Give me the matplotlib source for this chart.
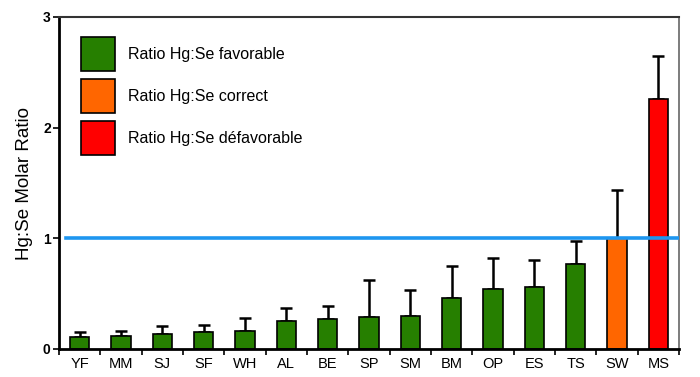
import numpy as np
import matplotlib.pyplot as plt
from matplotlib.patches import Patch

plt.rcParams['font.family'] = ['Liberation Sans', 'DejaVu Sans']

sites = ['YF', 'MM', 'SJ', 'SF', 'WH', 'AL', 'BE', 'SP', 'SM', 'BM',
         'OP', 'ES', 'TS', 'SW', 'MS']
ratio = [0.11, 0.12, 0.14, 0.15, 0.16, 0.25, 0.27, 0.285, 0.295, 0.457,
         0.54, 0.556, 0.77, 1.0, 2.26]
err = [0.04, 0.04, 0.07, 0.07, 0.12, 0.12, 0.12, 0.335, 0.235, 0.293,
       0.28, 0.244, 0.21, 0.44, 0.39]
status = ['fav'] * 13 + ['cor', 'def']

colors = {'fav': '#267f00', 'cor': '#ff6600', 'def': '#ff0000'}
labels = {'fav': 'Ratio Hg:Se favorable', 'cor': 'Ratio Hg:Se correct',
          'def': 'Ratio Hg:Se défavorable'}

fig = plt.figure(figsize=(7, 3.77), dpi=100)
ax = fig.add_axes([59/700, 28/377, 620/700, 332/377])

x = np.arange(len(sites))
ax.bar(x, ratio, width=0.46, color=[colors[s] for s in status],
       edgecolor='black', linewidth=1.2, zorder=2)
ax.errorbar(x, ratio, yerr=[np.zeros(len(err)), err], fmt='none',
            ecolor='black', elinewidth=1.8, capsize=4, capthick=1.8, zorder=1)
ax.plot([-0.33, len(sites) - 0.5], [1, 1], color='#1e96f0',
        linewidth=2.6, zorder=3)

ax.set_xlim(-0.5, len(sites) - 0.5)
ax.set_ylim(0, 3)
ax.set_yticks([0, 1, 2, 3])
ax.set_yticklabels(['0', '1', '2', '3'], fontsize=10, fontweight='bold')
ax.set_xticks(x)
ax.set_xticklabels(sites, fontsize=10.5)
ax.set_xticks(np.arange(len(sites) + 1) - 0.5, minor=True)
ax.tick_params(axis='x', which='major', length=0, pad=6)
ax.tick_params(axis='x', which='minor', length=4, width=1.2, direction='out')
ax.tick_params(axis='y', length=4, width=1.2, direction='out', pad=2)
ax.set_ylabel('Hg:Se Molar Ratio', fontsize=13.5, labelpad=7)

ax.spines['left'].set_linewidth(2)
ax.spines['bottom'].set_linewidth(2)
ax.spines['top'].set_linewidth(1.5)
ax.spines['top'].set_color('#333333')
ax.spines['right'].set_linewidth(1.2)
ax.spines['right'].set_color('#666666')

handles = [Patch(facecolor=colors[k], edgecolor='black', linewidth=1.2,
                 label=labels[k]) for k in ['fav', 'cor', 'def']]
ax.legend(handles=handles, loc='upper left', frameon=False, fontsize=11.5,
          handlelength=2.13, handleheight=2.9, labelspacing=0.5,
          handletextpad=0.81, borderaxespad=0, borderpad=0,
          bbox_to_anchor=(22/620, 1 - 20/332))

fig.savefig('out.png', dpi=100)
